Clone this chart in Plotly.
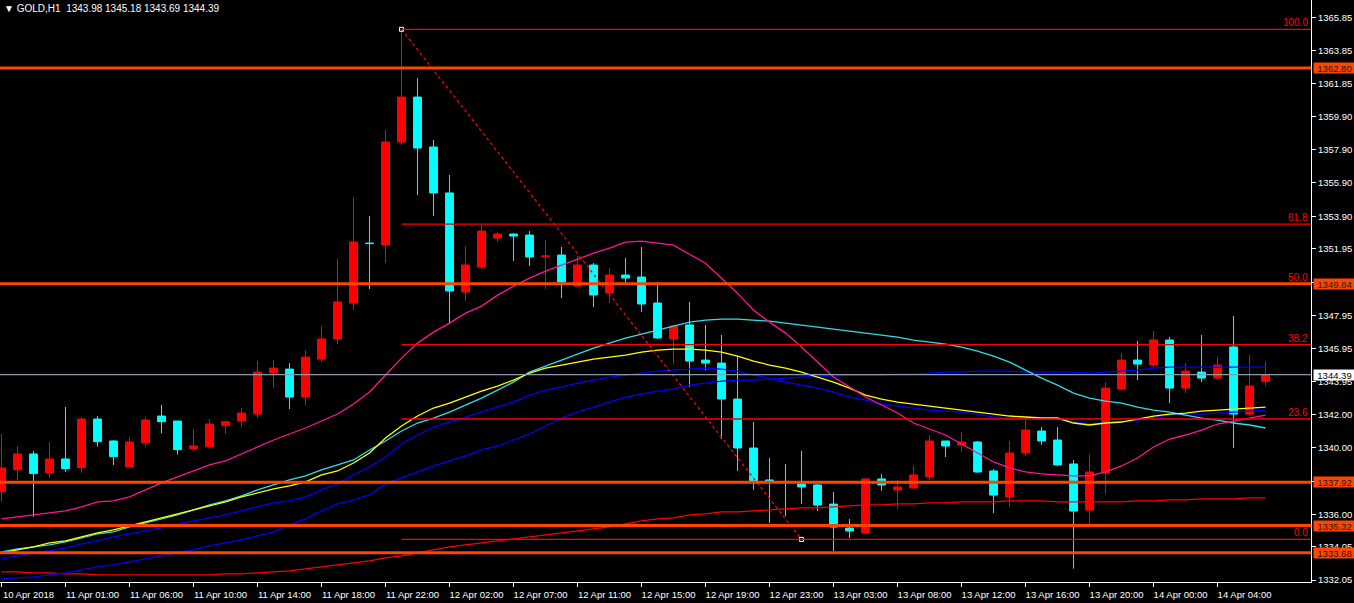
import plotly.graph_objects as go

# ---------------- data ----------------
title_text = "\u25bc GOLD,H1\u00a0\u00a01343.98 1345.18 1343.69 1344.39"

x_tick_labels = ["10 Apr 2018", "11 Apr 01:00", "11 Apr 06:00", "11 Apr 10:00", "11 Apr 14:00",
                 "11 Apr 18:00", "11 Apr 22:00", "12 Apr 02:00", "12 Apr 07:00", "12 Apr 11:00",
                 "12 Apr 15:00", "12 Apr 19:00", "12 Apr 23:00", "13 Apr 03:00", "13 Apr 08:00",
                 "13 Apr 12:00", "13 Apr 16:00", "13 Apr 20:00", "14 Apr 00:00", "14 Apr 04:00"]
x_tick_bars = [0, 4, 8, 12, 16, 20, 24, 28, 32, 36, 40, 44, 48, 52, 56, 60, 64, 68, 72, 76]

y_tick_values = [1365.85, 1363.85, 1361.85, 1359.90, 1357.90, 1355.90, 1353.90, 1351.95, 1349.95,
                 1347.95, 1345.95, 1343.95, 1342.00, 1340.00, 1337.95, 1336.00, 1334.05, 1332.05]

opens = [1337.35, 1338.68, 1339.62, 1338.48, 1339.32, 1338.80, 1341.72, 1340.40, 1338.84, 1340.30,
         1341.90, 1341.60, 1339.94, 1340.06, 1341.32, 1341.60, 1342.02, 1344.48, 1344.72, 1343.04,
         1345.32, 1346.53, 1348.69, 1352.29, 1352.17, 1358.36, 1361.06, 1358.06, 1355.30, 1349.35,
         1350.85, 1352.59, 1352.83, 1352.77, 1351.49, 1351.57, 1349.71, 1350.97, 1349.29, 1350.37,
         1350.25, 1348.69, 1346.53, 1347.37, 1345.26, 1345.08, 1342.92, 1339.98, 1338.06, 1337.97,
         1337.82, 1337.76, 1336.61, 1335.17, 1334.87, 1338.12, 1337.46, 1337.58, 1338.24, 1340.40,
         1340.16, 1340.34, 1338.60, 1337.03, 1339.68, 1341.00, 1340.46, 1339.02, 1336.25, 1338.48,
         1343.52, 1345.26, 1344.96, 1346.47, 1343.58, 1344.54, 1344.18, 1346.05, 1342.02, 1343.98]
highs = [1340.82, 1340.10, 1339.80, 1340.34, 1342.44, 1341.84, 1341.90, 1340.46, 1340.64, 1341.84,
         1342.56, 1341.60, 1341.12, 1341.72, 1341.60, 1342.38, 1345.20, 1345.26, 1345.08, 1345.86,
         1347.31, 1351.33, 1355.06, 1353.91, 1359.08, 1365.13, 1362.20, 1358.48, 1356.38, 1352.11,
         1353.37, 1352.95, 1352.89, 1353.01, 1352.47, 1352.05, 1351.51, 1351.09, 1350.79, 1351.39,
         1352.05, 1349.95, 1347.37, 1348.75, 1347.37, 1346.77, 1345.50, 1341.54, 1339.38, 1339.02,
         1339.80, 1337.82, 1337.34, 1335.71, 1338.12, 1338.42, 1338.06, 1338.90, 1340.76, 1340.40,
         1340.94, 1340.40, 1338.72, 1340.40, 1341.72, 1341.24, 1341.24, 1339.26, 1339.62, 1343.94,
         1345.68, 1346.41, 1347.01, 1346.65, 1345.08, 1346.77, 1345.44, 1347.91, 1345.56, 1345.18]
lows = [1336.75, 1338.06, 1335.85, 1338.19, 1338.55, 1338.49, 1340.06, 1338.96, 1338.84, 1340.06,
        1340.86, 1339.58, 1339.82, 1339.94, 1340.82, 1341.26, 1341.78, 1343.58, 1342.32, 1342.56,
        1345.14, 1346.23, 1348.27, 1349.53, 1351.09, 1358.18, 1355.18, 1353.91, 1347.43, 1348.81,
        1350.73, 1352.35, 1351.21, 1350.91, 1349.53, 1348.99, 1349.65, 1348.45, 1348.69, 1349.89,
        1348.15, 1346.53, 1345.02, 1343.64, 1344.66, 1340.52, 1338.60, 1337.46, 1335.47, 1335.89,
        1336.61, 1336.19, 1333.79, 1334.57, 1334.87, 1337.40, 1336.31, 1337.52, 1338.06, 1339.44,
        1339.74, 1338.48, 1336.07, 1336.43, 1339.50, 1340.16, 1338.90, 1332.73, 1335.41, 1337.21,
        1343.46, 1344.06, 1344.84, 1342.68, 1343.28, 1343.94, 1344.06, 1339.98, 1341.90, 1343.69]
closes = [1338.78, 1339.62, 1338.44, 1339.32, 1338.74, 1341.72, 1340.36, 1339.46, 1340.34, 1341.66,
          1341.56, 1339.88, 1340.10, 1341.42, 1341.56, 1342.08, 1344.54, 1344.78, 1343.04, 1345.44,
          1346.53, 1348.75, 1352.35, 1352.26, 1358.36, 1361.06, 1358.00, 1355.30, 1349.41, 1350.97,
          1353.01, 1352.83, 1352.71, 1351.45, 1351.51, 1349.95, 1350.97, 1349.17, 1350.37, 1350.19,
          1348.63, 1346.59, 1347.31, 1345.20, 1345.08, 1342.92, 1339.98, 1338.00, 1338.00, 1337.94,
          1337.64, 1336.55, 1335.23, 1334.99, 1338.12, 1337.76, 1337.64, 1338.36, 1340.40, 1340.10,
          1340.34, 1338.54, 1337.15, 1339.68, 1341.06, 1340.40, 1338.96, 1336.19, 1338.54, 1343.58,
          1345.26, 1345.02, 1346.47, 1343.58, 1344.60, 1344.18, 1344.96, 1342.02, 1343.70, 1344.39]

ma_pink = [1335.72, 1335.84, 1335.96, 1336.08, 1336.20, 1336.44, 1336.74, 1336.80, 1337.04, 1337.46,
           1337.88, 1338.24, 1338.60, 1338.96, 1339.20, 1339.62, 1340.04, 1340.46, 1340.82, 1341.18,
           1341.60, 1342.02, 1342.62, 1343.34, 1344.36, 1345.38, 1346.28, 1346.94, 1347.48, 1348.08,
           1348.50, 1349.16, 1349.70, 1350.18, 1350.60, 1350.96, 1351.32, 1351.68, 1351.98, 1352.34,
           1352.40, 1352.28, 1352.16, 1351.62, 1351.08, 1350.18, 1349.28, 1348.26, 1347.54, 1346.88,
           1346.04, 1345.14, 1344.24, 1343.64, 1343.04, 1342.56, 1342.08, 1341.48, 1341.12, 1340.76,
           1340.22, 1339.68, 1339.14, 1338.78, 1338.54, 1338.42, 1338.36, 1338.30, 1338.30, 1338.54,
           1338.90, 1339.38, 1340.04, 1340.52, 1340.76, 1341.06, 1341.42, 1341.60, 1341.78, 1341.96]
ma_cyan = [1333.74, 1333.92, 1334.04, 1334.16, 1334.34, 1334.58, 1334.82, 1334.94, 1335.24, 1335.48,
           1335.72, 1335.96, 1336.26, 1336.56, 1336.80, 1337.10, 1337.46, 1337.76, 1338.06, 1338.30,
           1338.66, 1338.96, 1339.26, 1339.86, 1340.40, 1341.00, 1341.48, 1341.78, 1342.14, 1342.56,
           1342.98, 1343.46, 1343.94, 1344.54, 1344.90, 1345.26, 1345.62, 1345.98, 1346.28, 1346.58,
           1346.82, 1347.06, 1347.30, 1347.54, 1347.66, 1347.72, 1347.72, 1347.66, 1347.60, 1347.48,
           1347.36, 1347.24, 1347.12, 1347.00, 1346.88, 1346.76, 1346.64, 1346.46, 1346.34, 1346.22,
           1346.04, 1345.80, 1345.50, 1345.14, 1344.66, 1344.18, 1343.76, 1343.28, 1342.98, 1342.80,
           1342.68, 1342.44, 1342.26, 1342.14, 1341.96, 1341.78, 1341.66, 1341.48, 1341.36, 1341.18]
ma_yellow = [1333.68, 1333.86, 1334.04, 1334.28, 1334.40, 1334.64, 1334.88, 1335.06, 1335.30, 1335.54,
             1335.78, 1336.02, 1336.26, 1336.50, 1336.74, 1337.04, 1337.28, 1337.52, 1337.70, 1337.94,
             1338.36, 1338.60, 1339.08, 1339.68, 1340.58, 1341.30, 1341.90, 1342.38, 1342.68, 1343.04,
             1343.40, 1343.70, 1344.06, 1344.48, 1344.78, 1344.96, 1345.14, 1345.32, 1345.44, 1345.56,
             1345.74, 1345.86, 1345.92, 1345.92, 1345.86, 1345.74, 1345.50, 1345.20, 1344.96, 1344.78,
             1344.54, 1344.24, 1343.94, 1343.58, 1343.16, 1342.92, 1342.74, 1342.62, 1342.50, 1342.38,
             1342.26, 1342.14, 1342.02, 1341.90, 1341.84, 1341.78, 1341.78, 1341.48, 1341.36, 1341.48,
             1341.54, 1341.72, 1341.90, 1342.02, 1342.08, 1342.20, 1342.26, 1342.32, 1342.38, 1342.44]
ma_blue_a = [1333.32, 1333.50, 1333.68, 1333.80, 1333.98, 1334.22, 1334.40, 1334.64, 1334.82, 1335.00,
             1335.18, 1335.42, 1335.60, 1335.78, 1335.96, 1336.20, 1336.44, 1336.68, 1336.80, 1337.04,
             1337.46, 1337.82, 1338.36, 1338.84, 1339.44, 1340.22, 1340.76, 1341.24, 1341.54, 1341.84,
             1342.14, 1342.44, 1342.74, 1343.16, 1343.46, 1343.64, 1343.88, 1344.06, 1344.24, 1344.36,
             1344.48, 1344.60, 1344.66, 1344.72, 1344.78, 1344.72, 1344.60, 1344.36, 1344.18, 1343.94,
             1343.76, 1343.58, 1343.34, 1343.04, 1342.86, 1342.62, 1342.50, 1342.38, 1342.26, 1342.20,
             1342.14, 1342.02, 1341.84, 1341.78, 1341.78, 1341.72, 1341.72, 1341.54, 1341.42, 1341.48,
             1341.54, 1341.66, 1341.84, 1341.96, 1342.02, 1342.02, 1342.08, 1342.14, 1342.20, 1342.26]
ma_blue_b = [1332.12, 1332.18, 1332.24, 1332.36, 1332.48, 1332.66, 1332.84, 1332.96, 1333.14, 1333.32,
             1333.50, 1333.68, 1333.86, 1334.10, 1334.28, 1334.46, 1334.70, 1334.94, 1335.36, 1335.72,
             1336.20, 1336.62, 1336.86, 1337.16, 1337.82, 1338.18, 1338.54, 1338.90, 1339.20, 1339.50,
             1339.86, 1340.10, 1340.46, 1340.82, 1341.30, 1341.78, 1342.14, 1342.44, 1342.74, 1343.04,
             1343.22, 1343.40, 1343.52, 1343.76, 1343.88, 1344.00, 1344.06, 1344.06, 1344.12, 1344.18,
             1344.24, 1344.30, 1344.30, 1344.36, 1344.36, 1344.36, 1344.42, 1344.42, 1344.48, 1344.54,
             1344.54, 1344.60, 1344.60, 1344.60, 1344.54, 1344.54, 1344.54, 1344.54, 1344.48, 1344.54,
             1344.60, 1344.66, 1344.78, 1344.84, 1344.84, 1344.84, 1344.84, 1344.84, 1344.84, 1344.84]
ma_red = [1332.54, 1332.54, 1332.48, 1332.48, 1332.42, 1332.42, 1332.36, 1332.36, 1332.36, 1332.36,
          1332.36, 1332.36, 1332.36, 1332.36, 1332.42, 1332.42, 1332.48, 1332.54, 1332.60, 1332.72,
          1332.84, 1332.96, 1333.08, 1333.20, 1333.38, 1333.50, 1333.68, 1333.86, 1334.04, 1334.16,
          1334.28, 1334.40, 1334.52, 1334.64, 1334.76, 1334.88, 1335.00, 1335.12, 1335.24, 1335.42,
          1335.60, 1335.72, 1335.78, 1335.96, 1336.02, 1336.14, 1336.14, 1336.20, 1336.26, 1336.32,
          1336.38, 1336.38, 1336.44, 1336.50, 1336.56, 1336.56, 1336.62, 1336.62, 1336.68, 1336.68,
          1336.74, 1336.74, 1336.74, 1336.80, 1336.80, 1336.80, 1336.74, 1336.74, 1336.74, 1336.74,
          1336.74, 1336.80, 1336.80, 1336.86, 1336.86, 1336.92, 1336.92, 1336.92, 1336.98, 1336.98]

level_prices = [1362.80, 1349.84, 1337.92, 1335.32, 1333.68]
bid_price = 1344.39

fib_high = 1365.13
fib_low = 1334.49
fib_high_bar = 25
fib_low_bar = 50
fib_ratios = [100.0, 61.8, 50.0, 38.2, 23.6, 0.0]

# ---------------- styling ----------------
FONT = "Liberation Sans"
BG = "#000000"
UP = "#FF0000"
DOWN = "#00FFFF"
LEVEL = "#FF4500"
X_MIN, X_MAX = -0.094, 81.84
Y_MIN, Y_MAX = 1331.93, 1366.89

bars = list(range(len(opens)))

fig = go.Figure()
fig.add_trace(go.Candlestick(
    x=bars, open=opens, high=highs, low=lows, close=closes,
    increasing=dict(line=dict(color=UP, width=1), fillcolor=UP),
    decreasing=dict(line=dict(color=DOWN, width=1), fillcolor=DOWN),
    whiskerwidth=0, hoverinfo="skip", showlegend=False,
))

for series, color in [(ma_red, "#FF0000"), (ma_blue_b, "#0000FF"), (ma_blue_a, "#0000FF"),
                      (ma_cyan, "#30DCE6"), (ma_yellow, "#FFFF00"), (ma_pink, "#FF1493")]:
    fig.add_trace(go.Scatter(x=bars, y=series, mode="lines",
                             line=dict(color=color, width=1.3), hoverinfo="skip", showlegend=False))

# fibonacci trend line (dotted) with end handles
fig.add_trace(go.Scatter(x=[fib_high_bar, fib_low_bar], y=[fib_high, fib_low], mode="lines",
                         line=dict(color="#FF0000", width=1.3, dash="dot"),
                         hoverinfo="skip", showlegend=False))
fig.add_trace(go.Scatter(x=[fib_high_bar, fib_low_bar], y=[fib_high, fib_low], mode="markers",
                         marker=dict(symbol="square-open", size=4, color="#FFFFFF",
                                     line=dict(width=1, color="#FFFFFF")),
                         hoverinfo="skip", showlegend=False))

shapes = []
annotations = []

# fibonacci levels
for r in fib_ratios:
    lvl = fib_low + (fib_high - fib_low) * r / 100.0
    shapes.append(dict(type="line", xref="x", yref="y", x0=fib_high_bar, x1=X_MAX, y0=lvl, y1=lvl,
                       line=dict(color="#FF0000", width=1.3), layer="above"))
    annotations.append(dict(xref="paper", yref="y", x=1, y=lvl, xanchor="right", yanchor="bottom",
                            xshift=-1, yshift=-1, text=f"{r:.1f}", showarrow=False,
                            font=dict(family=FONT, size=10, color="#FF0000")))

# bid line
shapes.append(dict(type="line", xref="paper", yref="y", x0=0, x1=1, y0=bid_price, y1=bid_price,
                   line=dict(color="#8A9AAA", width=1.2), layer="above"))
annotations.append(dict(xref="paper", yref="y", x=1, y=bid_price, xanchor="left", yanchor="middle",
                        xshift=2, text=f"{bid_price:.2f}", showarrow=False, bgcolor="#FFFFFF",
                        width=41, height=10, borderpad=0, align="center",
                        font=dict(family=FONT, size=9.5, color="#000000")))

# horizontal support / resistance levels
for lv in level_prices:
    shapes.append(dict(type="line", xref="paper", yref="y", x0=0, x1=1, y0=lv, y1=lv,
                       line=dict(color=LEVEL, width=3), layer="above"))
    annotations.append(dict(xref="paper", yref="y", x=1, y=lv, xanchor="left", yanchor="middle",
                            xshift=2, text=f"{lv:.2f}", showarrow=False, bgcolor=LEVEL,
                            width=41, height=10, borderpad=0, align="center",
                            font=dict(family=FONT, size=9.5, color="#1A1A1A")))

# title
annotations.append(dict(xref="paper", yref="paper", x=0, y=1, xanchor="left", yanchor="top",
                        xshift=2, yshift=-1, text=title_text, showarrow=False,
                        font=dict(family=FONT, size=10, color="#FFFFFF")))

fig.update_layout(
    width=1354, height=603,
    margin=dict(l=0, r=43, t=0, b=21, pad=0, autoexpand=False),
    paper_bgcolor=BG, plot_bgcolor=BG,
    showlegend=False,
    shapes=shapes, annotations=annotations,
    xaxis=dict(range=[X_MIN, X_MAX], tickmode="array", tickvals=x_tick_bars, ticktext=x_tick_labels,
               ticks="outside", ticklen=4, tickcolor="#FFFFFF", tickwidth=1, automargin=False,
               showline=True, linecolor="#FFFFFF", linewidth=1, showgrid=False, zeroline=False,
               tickfont=dict(family=FONT, size=9.5, color="#FFFFFF"), ticklabelshift=27,
               rangeslider=dict(visible=False), fixedrange=True),
    yaxis=dict(range=[Y_MIN, Y_MAX], side="right", tickmode="array", tickvals=y_tick_values,
               tickformat=".2f", ticks="outside", ticklen=4, tickcolor="#FFFFFF", tickwidth=1,
               automargin=False,
               showline=True, linecolor="#FFFFFF", linewidth=1, showgrid=False, zeroline=False,
               tickfont=dict(family=FONT, size=9.5, color="#FFFFFF"), fixedrange=True),
)

fig.write_html(
    "out.html",
    config={"displayModeBar": False},
    post_script="document.body.style.margin='0px';document.body.style.background='#000000';"
                "document.body.style.overflow='hidden';",
)
